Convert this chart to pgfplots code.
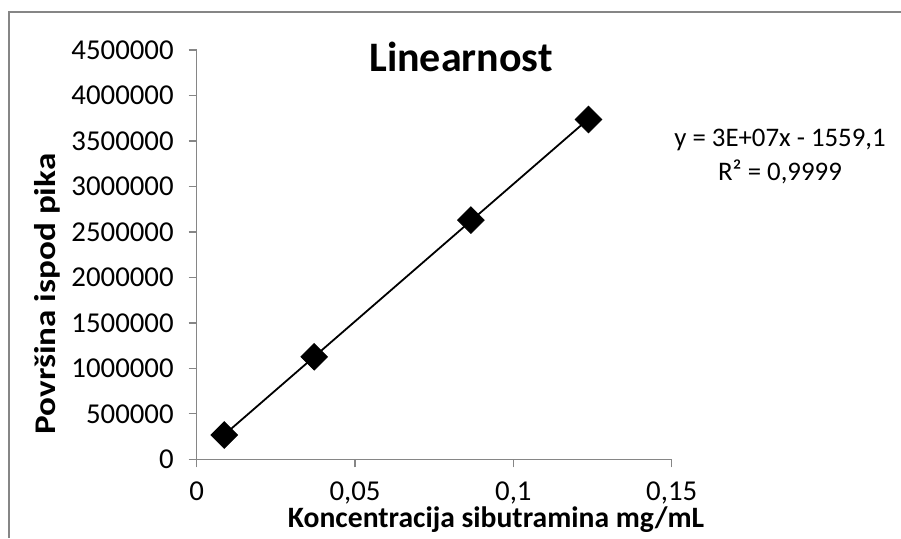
\documentclass[border=0pt]{standalone}
\usepackage{pgfplots}
\pgfplotsset{compat=1.18}
\usepackage{pgfplotstable}
\usepackage{fontspec}
\setmainfont{Carlito}
\definecolor{axgray}{HTML}{868686}
\pgfplotstableread{
x y
0.0087 267000
0.0371 1127000
0.0866 2630000
0.1237 3736000
}\datatable
\begin{document}
\begin{tikzpicture}
\useasboundingbox (0,0) rectangle (450.5pt,269pt);
\draw[axgray, line width=0.65pt] (4.5pt,0) -- (4.5pt,263pt) -- (450.5pt,263pt);
\begin{axis}[
  at={(98.35pt,39.35pt)}, anchor=south west,
  scale only axis, width=237.5pt, height=204.65pt,
  xmin=0, xmax=0.15, ymin=0, ymax=4500000,
  scaled y ticks=false, scaled x ticks=false,
  axis lines*=left,
  axis line style={axgray, line width=0.65pt},
  tick style={axgray, line width=0.65pt},
  major tick length=4pt,
  tick align=outside,
  xtick={0,0.05,0.1,0.15},
  xticklabels={0,{0,05},{0,1},{0,15}},
  ytick={0,500000,1000000,1500000,2000000,2500000,3000000,3500000,4000000,4500000},
  yticklabels={0,500000,1000000,1500000,2000000,2500000,3000000,3500000,4000000,4500000},
  ticklabel style={font=\fontsize{14.4}{17}\selectfont},
  yticklabel style={anchor=east, xshift=-4pt},
  xticklabel style={anchor=north, yshift=-3.8pt},
  /pgf/number format/assume math mode=true,
  clip=false,
]
\addplot[black, line width=0.9pt, no marks] table[x=x, y={create col/linear regression={y=y}}] {\datatable};
\addplot[only marks, mark=square*, mark size=4.7pt, mark options={rotate=45, fill=black, draw=black}] table[x=x, y=y] {\datatable};
\end{axis}
\node[anchor=base, font=\fontsize{21}{25}\selectfont\bfseries] at (230.5pt,233.15pt) {Linearnost};
\node[anchor=base, font=\fontsize{13.4}{16}\selectfont] at (390pt,195.65pt) {y = 3E+07x - 1559,1};
\node[anchor=base, font=\fontsize{13.4}{16}\selectfont] at (390pt,179pt) {R² = 0,9999};
\node[anchor=base, rotate=90, font=\fontsize{15}{18}\selectfont\bfseries] at (27.5pt,122pt) {\scalebox{1.17}[1]{Površina ispod pika}};
\node[anchor=base, font=\fontsize{14.8}{18}\selectfont\bfseries] at (248pt,5.5pt) {Koncentracija sibutramina mg/mL};
\end{tikzpicture}
\end{document}
